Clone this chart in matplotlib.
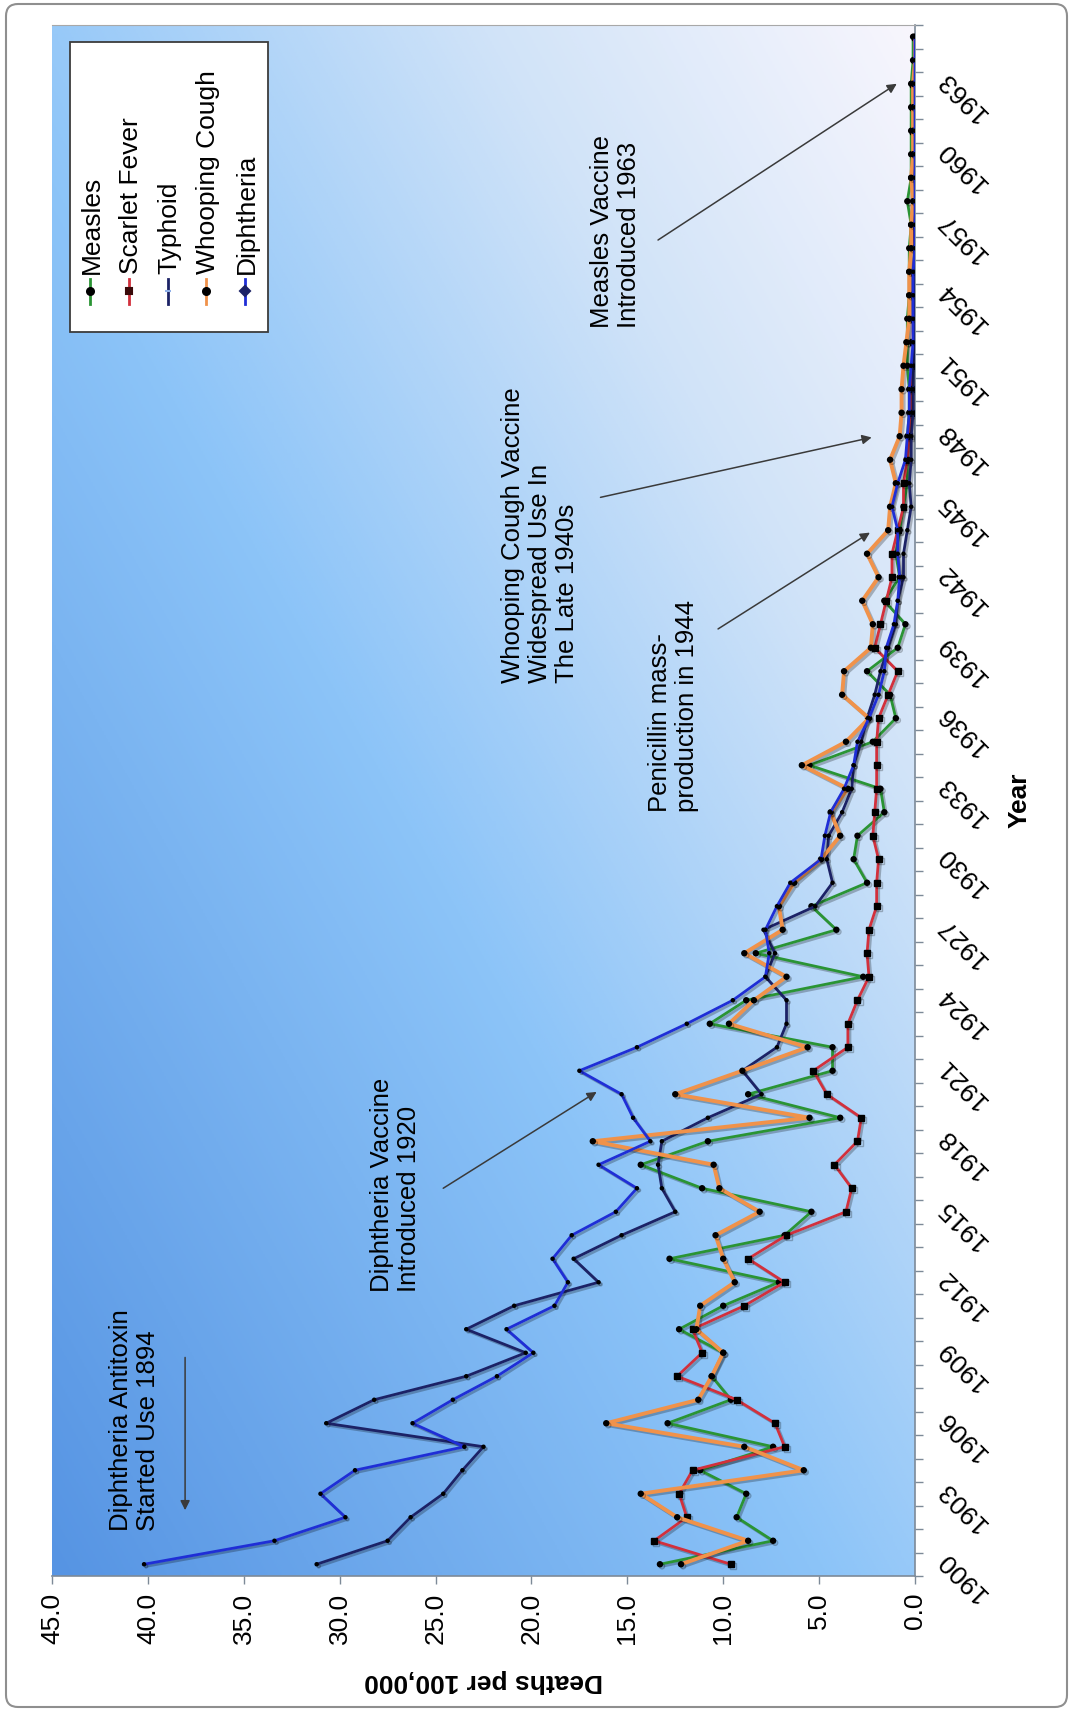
import numpy as np
import matplotlib
matplotlib.use("Agg")
import matplotlib.pyplot as plt
import matplotlib.patheffects as pe
from matplotlib.patches import FancyBboxPatch, Rectangle
from matplotlib.colors import LinearSegmentedColormap
from matplotlib.ticker import FormatStrFormatter

plt.rcParams['font.family'] = ['Liberation Sans', 'DejaVu Sans']

# data: deaths per 100,000, 1900-1965
years = list(range(1900, 1966))

measles = [13.3, 7.4, 9.3, 8.8, 11.2, 7.4, 12.9, 9.6, 10.6, 10.0, 12.3, 10.0,
           7.1, 12.8, 6.8, 5.4, 11.1, 14.3, 10.8, 3.9, 8.7, 4.3, 4.3, 10.7, 8.8,
           2.7, 8.3, 4.1, 5.4, 2.5, 3.2, 3.0, 1.6, 1.8, 5.5, 2.2, 1.0, 1.3, 2.5,
           0.9, 0.5, 1.6, 0.8, 1.0, 0.8, 0.6, 0.4, 0.4, 0.4, 0.3, 0.3, 0.4, 0.4,
           0.4, 0.3, 0.3, 0.3, 0.2, 0.4, 0.2, 0.2, 0.2, 0.2, 0.2, 0.1, 0.1]

scarlet_fever = [9.6, 13.6, 11.9, 12.3, 11.6, 6.8, 7.3, 9.3, 12.4, 11.1, 11.6, 8.9,
                 6.8, 8.7, 6.7, 3.6, 3.3, 4.2, 3.0, 2.8, 4.6, 5.3, 3.5, 3.5, 3.0,
                 2.4, 2.5, 2.4, 2.0, 2.0, 1.9, 2.2, 2.1, 2.0, 2.0, 2.0, 1.9, 1.4, 0.9,
                 2.1, 1.8, 1.5, 1.2, 1.2, 0.9, 0.6, 0.6, 0.4, 0.3, 0.2, 0.2, 0.1, 0.1,
                 0.1, 0.1, 0.1, 0.0, 0.1, 0.0, 0.0, 0.0, 0.1, 0.1, 0.1, 0.0, 0.0]

typhoid = [31.2, 27.5, 26.3, 24.6, 23.6, 22.5, 30.7, 28.2, 23.4, 20.3, 23.4, 20.9,
           16.5, 17.8, 15.3, 12.5, 13.2, 13.4, 13.2, 10.8, 8.0, 9.0, 7.2, 6.7, 6.7,
           7.8, 7.3, 7.9, 5.2, 4.3, 4.6, 4.5, 3.8, 3.3, 3.2, 2.8, 2.5, 2.1, 1.8,
           1.4, 1.0, 0.9, 0.6, 0.6, 0.4, 0.2, 0.3, 0.2, 0.2, 0.1, 0.1, 0.1, 0.0,
           0.0, 0.0, 0.0, 0.0, 0.0, 0.0, 0.0, 0.0, 0.0, 0.0, 0.0, 0.0, 0.0]

whooping_cough = [12.2, 8.7, 12.4, 14.3, 5.8, 8.9, 16.1, 11.3, 10.6, 10.0, 11.4, 11.2,
                  9.4, 10.0, 10.4, 8.1, 10.2, 10.5, 16.8, 5.5, 12.5, 9.0, 5.6, 9.7, 8.4,
                  6.7, 8.9, 6.9, 7.1, 6.3, 4.9, 3.9, 4.4, 3.5, 5.9, 3.6, 2.4, 3.8, 3.7,
                  2.3, 2.2, 2.75, 1.9, 2.5, 1.4, 1.3, 1.0, 1.3, 0.8, 0.7, 0.7, 0.6, 0.45,
                  0.3, 0.3, 0.3, 0.2, 0.2, 0.1, 0.2, 0.1, 0.1, 0.1, 0.1, 0.0, 0.0]

diphtheria = [40.2, 33.4, 29.7, 31.0, 29.2, 23.5, 26.2, 24.1, 21.8, 19.9, 21.3, 18.8,
              18.1, 18.9, 17.9, 15.6, 14.5, 16.5, 13.8, 14.7, 15.3, 17.5, 14.5, 11.9, 9.5,
              7.8, 7.6, 7.8, 7.2, 6.5, 4.9, 4.7, 4.4, 3.7, 3.2, 3.0, 2.4, 1.9, 1.6,
              1.5, 1.1, 0.9, 0.8, 0.9, 0.9, 1.2, 0.9, 0.5, 0.4, 0.3, 0.3, 0.2, 0.1,
              0.1, 0.1, 0.1, 0.0, 0.0, 0.0, 0.0, 0.0, 0.0, 0.0, 0.0, 0.0, 0.0]

names = ['Measles', 'Scarlet Fever', 'Typhoid', 'Whooping Cough', 'Diphtheria']
series = [measles, scarlet_fever, typhoid, whooping_cough, diphtheria]

# styles
colors = ['#2a9434', '#d2303c', '#1c2266', '#f0924a', '#1f2ed6']
markers = ['o', 's', 'o', 'o', 'o']
msizes = [3.6, 4.3, 2.2, 3.6, 2.2]
lwidths = [2.0, 2.0, 2.0, 2.8, 2.0]
leg_markers = ['o', 's', '_', 'o', 'D']
leg_mcolors = ['black', '#3a0a0a', '#8fb0e8', 'black', '#1c2266']

FS = 19
W, H = 1074, 1711
L, R, T, B = 52, 915, 25, 1576

fig = plt.figure(figsize=(W / 100, H / 100), dpi=100)
ax = fig.add_axes([L / W, 1 - B / H, (R - L) / W, (B - T) / H])

# gradient plot area
gx, gy = np.meshgrid(np.linspace(0, 1, 400), np.linspace(0, 1, 400))
grad = (gx + gy) / 2
bg = LinearSegmentedColormap.from_list('bg', [(0, '#5694e3'), (0.45, '#8cc4f8'),
                                              (0.75, '#d0e3f8'), (1, '#f8f6fd')])
ax.imshow(grad, cmap=bg, origin='lower', extent=(0, 1, 0, 1), transform=ax.transAxes,
          aspect='auto', zorder=0, vmin=0, vmax=1)

shadow = [pe.SimpleLineShadow(offset=(1.5, -1.5), alpha=0.25), pe.Normal()]
for vals, c, m, ms, lw in zip(series, colors, markers, msizes, lwidths):
    ax.plot(vals, years, color=c, lw=lw, marker=m, ms=ms, mfc='black', mec='black',
            zorder=3, path_effects=shadow)

ax.set_xlim(45, 0)
ax.set_ylim(1899.5, 1965.5)

# deaths axis (bottom)
ax.set_xticks(np.arange(0, 46, 5))
ax.xaxis.set_major_formatter(FormatStrFormatter('%.1f'))
ax.tick_params(axis='x', direction='out', length=6, width=1, color='#7d8a98',
               pad=6, labelsize=FS, labelrotation=90)

# year axis (right)
ax.yaxis.tick_right()
ax.set_yticks(np.arange(1900, 1964, 3))
ax.set_yticks(np.arange(1899.5, 1966, 1), minor=True)
ax.tick_params(axis='y', which='major', length=0, pad=13, labelsize=FS)
ax.tick_params(axis='y', which='minor', direction='out', length=6, width=1, color='#7d8a98')
for lbl in ax.get_yticklabels():
    lbl.set_rotation(135)
    lbl.set_rotation_mode('anchor')
    lbl.set_ha('right')
    lbl.set_va('top')

ax.spines['left'].set_visible(False)
ax.spines['top'].set_color('#a8a8a8')
ax.spines['top'].set_linewidth(0.8)
for s in ('bottom', 'right'):
    ax.spines[s].set_color('#7d8a98')
    ax.spines[s].set_linewidth(1.2)

ax.set_xlabel('Deaths per 100,000', fontsize=FS, fontweight='bold', rotation=180)
ax.xaxis.set_label_coords(0.5, -(1681 - B) / (B - T))
ax.xaxis.label.set_va('center')
ax.set_ylabel('Year', fontsize=FS, fontweight='bold', rotation=90)
ax.yaxis.set_label_position('right')
ax.yaxis.set_label_coords((1020 - L) / (R - L), 0.5)
ax.yaxis.label.set_va('center')
ax.yaxis.label.set_ha('center')


def axfrac(px, py):
    return (px - L) / (R - L), (B - py) / (B - T)


# legend drawn by hand so it can be rotated with the chart
x0, y0 = axfrac(70, 332)
x1, y1 = axfrac(268, 42)
ax.add_patch(Rectangle((x0, y0), x1 - x0, y1 - y0, transform=ax.transAxes, fc='white',
                       ec='#3c3c3c', lw=1.3, zorder=10))
for i, (name, c, m, mc) in enumerate(zip(names, colors, leg_markers, leg_mcolors)):
    px = 90 + i * 38.8
    hx, hy0 = axfrac(px, 304)
    _, hy1 = axfrac(px, 279)
    _, hym = axfrac(px, 291)
    ax.plot([hx, hx], [hy0, hy1], color=c, lw=2, transform=ax.transAxes, zorder=11)
    ax.plot([hx], [hym], marker=m, ms=5, mfc=mc, mec=mc, mew=1.5,
            transform=ax.transAxes, zorder=12)
    tx, ty = axfrac(px + 2, 274)
    ax.text(tx, ty, name, rotation=90, rotation_mode='anchor', ha='left', va='center',
            fontsize=FS, transform=ax.transAxes, zorder=12)

# annotations
ann_fs = 18.5
notes = [
    ('Diphtheria Antitoxin\nStarted Use 1894', (40.7, 1901.4), (38.06, 1908.8), (38.06, 1902.3)),
    ('Diphtheria Vaccine\nIntroduced 1920', (27.1, 1911.6), (24.6, 1916.0), (16.6, 1920.1)),
    ('Whooping Cough Vaccine\nWidespread Use In\nThe Late 1940s', (19.55, 1937.5), (16.4, 1945.4), (2.26, 1947.95)),
    ('Penicillin mass-\nproduction in 1944', (12.6, 1932.0), (10.27, 1939.8), (2.35, 1943.9)),
    ('Measles Vaccine\nIntroduced 1963', (15.6, 1952.6), (13.4, 1956.35), (0.95, 1963.0)),
]
for txt, tpos, tail, tip in notes:
    ax.text(tpos[0], tpos[1], txt, rotation=90, rotation_mode='anchor', ha='left',
            va='center', multialignment='left', fontsize=ann_fs, linespacing=1.15, zorder=5)
    ax.annotate('', xy=tip, xytext=tail,
                arrowprops=dict(arrowstyle='-|>', color='#3a3a3a', lw=1.1,
                                mutation_scale=14, shrinkA=0, shrinkB=0), zorder=5)

# rounded outer frame
frame = FancyBboxPatch((0.06, 0.04), W / 100 - 0.13, H / 100 - 0.08,
                       boxstyle='round,pad=0,rounding_size=0.12',
                       transform=fig.dpi_scale_trans, fill=False, ec='#8f8f8f', lw=1.5)
fig.add_artist(frame)

fig.savefig('out.png', dpi=100)
